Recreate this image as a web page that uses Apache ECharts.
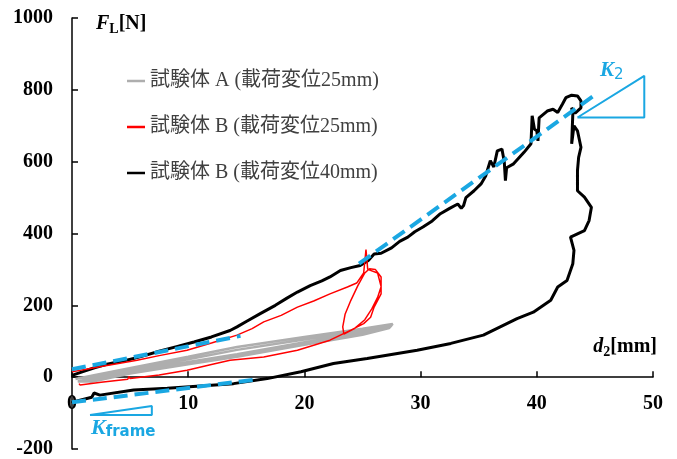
<!DOCTYPE html>
<html lang="ja" style="height: 100%">
<head>
  <meta charset="utf-8">
</head>
<body style="height: 100%; margin: 0">
  <div id="container" style="width: 677px; height: 459px"></div>

  <script type="text/javascript" src="https://cdn.jsdelivr.net/npm/echarts@6/dist/echarts.min.js"></script>
  <script type="text/javascript">
    // 試験体 A (載荷変位25mm)  [d2 mm, FL N]
    var grayA = [
      [0.3, -5], [2, 6], [5.6, 29], [10, 57], [14.2, 84], [20, 112], [25, 135], [27.6, 148],
      [27.4, 141], [25, 124], [20, 97], [14.2, 64], [10, 42], [5, 16], [1.3, -12], [0.5, -12],
      [0.6, -8], [3, 8], [5.6, 24], [10, 50], [14.2, 76], [20, 105], [25, 129], [27.5, 144],
      [27.3, 137], [25, 118], [20, 90], [14.2, 57], [10, 36], [5, 10], [1.5, -14]
    ];
    // 試験体 B (載荷変位25mm)
    var redB25 = [
      [0, 15], [1.2, 22], [2.5, 30], [4, 38], [5.6, 47], [7.5, 60], [9.9, 75], [12, 95], [14.2, 117],
      [15.5, 135], [16.5, 154], [18, 172], [19.4, 195], [20.8, 212], [22.2, 232], [23.7, 251],
      [24.5, 262], [25.1, 290], [25.3, 355], [25.45, 300], [26.3, 290], [26.6, 252], [26.3, 222],
      [25.8, 190], [25.2, 160], [24.3, 135], [23.4, 120], [23.3, 140], [23.5, 175], [24.0, 214],
      [24.6, 255], [25.2, 290], [25.6, 302], [26.1, 300], [26.6, 279], [26.6, 232], [26.0, 195],
      [25.7, 167], [25.1, 149], [24, 131], [22.2, 103], [19.4, 75], [16.5, 56], [13.6, 47],
      [12, 35], [9.9, 19], [7.5, 6], [5, -4], [4.9, 2], [4.8, -6], [2.5, -14], [0.7, -22], [0.6, -18]
    ];
    // 試験体 B (載荷変位40mm)
    var blackB40 = [
      [0, 5], [1, 16], [2, 27], [3, 36], [4.7, 47], [6, 58], [7.5, 72], [9, 85], [10.5, 98],
      [12, 112], [13.6, 130], [14.2, 140], [15, 155], [16.2, 177], [17.5, 200], [18.5, 220],
      [19.4, 237], [20.5, 255], [21.5, 268], [22.2, 279], [23.1, 297], [24, 305], [24.8, 311],
      [25.5, 325], [26, 343], [26.6, 345], [27.5, 360], [28.2, 378], [28.9, 390], [29.5, 405],
      [30.2, 418], [31, 435], [31.7, 455], [32.5, 470], [33.2, 482], [33.5, 470], [33.7, 478],
      [33.9, 500], [34.6, 519], [35.2, 538], [35.6, 560], [36, 603], [36.3, 585], [36.6, 630],
      [37, 635], [37.2, 600], [37.3, 547], [37.4, 583], [38, 594], [38.9, 626], [39.5, 650],
      [39.6, 728], [39.8, 690], [40, 686], [40.1, 658], [40.2, 722], [40.9, 741], [41.4, 746],
      [41.8, 737], [42.2, 760], [42.5, 778], [43, 785], [43.5, 783], [43.8, 769], [43.8, 750],
      [43.3, 735], [43, 750], [43.1, 733], [43, 650], [43.2, 700], [43.5, 686], [43.8, 640],
      [43.6, 612], [43.5, 575], [43.5, 519], [44.1, 501], [44.7, 473], [44.5, 436], [44.1, 408],
      [42.9, 390], [43.2, 353], [43.1, 316], [42.6, 269], [41.8, 251], [41.2, 214], [39.7, 181],
      [38.3, 163], [35.4, 117], [32.6, 94], [29.7, 75], [25.4, 52], [22.5, 38], [19.7, 15],
      [16.8, -4], [13.9, -18], [8.2, -31], [5.3, -36], [2.4, -50], [1.9, -44], [1.7, -56],
      [0.1, -69], [0, -72]
    ];
    // 剛性の近似直線
    var lineK1 = [[0, 22], [14.5, 115]];
    var lineK2 = [[24.7, 316], [45.1, 788]];
    var lineKframe = [[0, -70], [16, -6]];
    // 勾配三角形
    var triK2 = [[43.5, 723], [49.25, 839], [49.25, 723], [43.5, 723]];
    var triKframe = [[1.55, -105.6], [6.87, -80.5], [6.87, -105.6], [1.55, -105.6]];

    var xTicks = { min: 0, max: 50, interval: 10 };
    var yTicks = { min: -200, max: 1000, interval: 200 };
    var legendNames = ['試験体 A (載荷変位25mm)', '試験体 B (載荷変位25mm)', '試験体 B (載荷変位40mm)'];

    var blue = '#1aa7e2';
    var serif = '"Liberation Serif", "Times New Roman", serif';

    var gridBox = { left: 72, right: 24, top: 18, bottom: 10 };
    var dom = document.getElementById('container');
    var myChart = echarts.init(dom, null, { renderer: 'canvas' });

    // x軸を F=0 の位置へ（下端からの距離）
    var plotH = dom.clientHeight - gridBox.top - gridBox.bottom;
    var zeroShift = plotH * (0 - yTicks.min) / (yTicks.max - yTicks.min);

    function plain(name, data, color, width, z, dash) {
      return {
        name: name,
        type: 'line',
        data: data,
        symbol: 'none',
        z: z,
        silent: true,
        lineStyle: { color: color, width: width, type: dash || 'solid', cap: 'butt' },
        itemStyle: { color: color }
      };
    }

    var subRich = function (color) {
      return {
        f: { fontSize: 20, fontStyle: 'italic', fontWeight: 'bold', fontFamily: serif, color: color, lineHeight: 24, verticalAlign: 'middle' },
        s: { fontSize: 14, fontWeight: 'bold', fontFamily: serif, color: color, lineHeight: 14, verticalAlign: 'bottom' },
        b: { fontSize: 20, fontWeight: 'bold', fontFamily: serif, color: color, lineHeight: 24, verticalAlign: 'middle' }
      };
    };

    var option = {
      animation: false,
      grid: {
        left: gridBox.left, right: gridBox.right, top: gridBox.top, bottom: gridBox.bottom,
        containLabel: false, outerBoundsMode: 'none'
      },
      legend: {
        data: legendNames,
        orient: 'vertical',
        left: 122,
        top: 66,
        icon: 'rect',
        itemWidth: 18,
        itemHeight: 2.5,
        itemGap: 26,
        textStyle: { fontSize: 20, color: '#404040', fontFamily: serif + ', "Noto Sans CJK JP"' }
      },
      xAxis: {
        type: 'value',
        position: 'bottom',
        offset: -zeroShift,
        min: xTicks.min, max: xTicks.max, interval: xTicks.interval,
        splitLine: { show: false },
        axisLine: { show: true, onZero: false, lineStyle: { color: '#000', width: 1.5 } },
        axisTick: { show: true, inside: true, length: 6, lineStyle: { color: '#000', width: 1.5 } },
        axisLabel: { margin: 17, color: '#000', fontSize: 20, fontWeight: 'bold', fontFamily: serif,
          formatter: function (v) { return String(v); } }
      },
      yAxis: {
        type: 'value',
        min: yTicks.min, max: yTicks.max, interval: yTicks.interval,
        splitLine: { show: false },
        axisLine: { show: true, onZero: false, lineStyle: { color: '#000', width: 1.5 } },
        axisTick: { show: true, inside: true, length: 6, lineStyle: { color: '#000', width: 1.5 } },
        axisLabel: { margin: 19, color: '#000', fontSize: 20, fontWeight: 'bold', fontFamily: serif,
          formatter: function (v) { return String(v); } }
      },
      graphic: [
        {
          type: 'text', left: 96, top: 14,
          style: { text: '{f|F}{s|L}{b|[N]}', rich: subRich('#000') }
        },
        {
          type: 'text', right: 20, top: 337,
          style: { text: '{f|d}{s|2}{b|[mm]}', rich: subRich('#000') }
        },
        {
          type: 'text', left: 600, top: 60,
          style: {
            text: '{f|K}{s|2}',
            fill: blue,
            rich: {
              f: { fontSize: 21, fontStyle: 'italic', fontWeight: 'bold', fontFamily: serif, color: blue, lineHeight: 24, verticalAlign: 'middle' },
              s: { fontSize: 15, fontFamily: '"DejaVu Sans", sans-serif', color: blue, lineHeight: 15, verticalAlign: 'bottom' }
            }
          }
        },
        {
          type: 'text', left: 91, top: 417,
          style: {
            text: '{f|K}{s|frame}',
            fill: blue,
            rich: {
              f: { fontSize: 22, fontStyle: 'italic', fontWeight: 'bold', fontFamily: serif, color: blue, lineHeight: 24, verticalAlign: 'middle' },
              s: { fontSize: 15, fontWeight: 'bold', fontFamily: '"DejaVu Sans", sans-serif', color: blue, lineHeight: 15, verticalAlign: 'bottom' }
            }
          }
        }
      ],
      series: [
        plain(legendNames[2], blackB40, '#000', 3, 2),
        plain(legendNames[0], grayA, '#aeaeae', 2.5, 3),
        plain(legendNames[1], redB25, '#ff0000', 1.5, 4),
        plain('K1', lineK1, blue, 4, 5, [14, 7]),
        plain('K2', lineK2, blue, 4, 5, [14, 7]),
        plain('Kframe', lineKframe, blue, 4, 5, [14, 7]),
        plain('triK2', triK2, blue, 2, 5),
        plain('triKframe', triKframe, blue, 2, 5)
      ]
    };

    myChart.setOption(option);
    window.addEventListener('resize', myChart.resize);
  </script>
</body>
</html>
